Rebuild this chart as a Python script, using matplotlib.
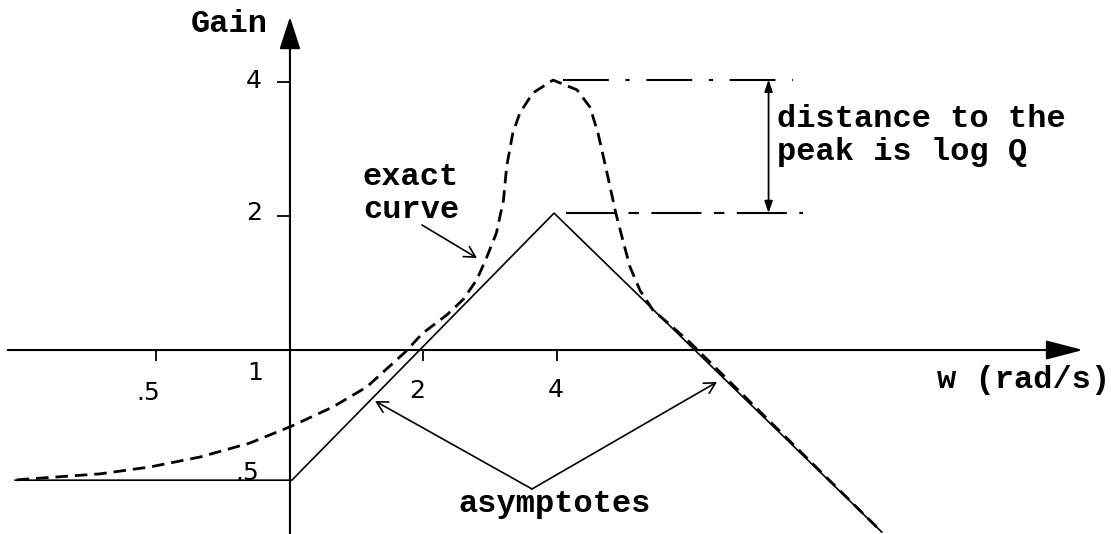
import matplotlib
matplotlib.use('Agg')
import matplotlib.pyplot as plt
from matplotlib.ticker import NullLocator

W, H = 1111, 534

# straight-line asymptotes: flat, rising to the corner at w=4, then falling
asym_w = [0.24, 1.01, 3.94, 21.6]
asym_gain = [0.51, 0.51, 2.03, 0.39]

# exact curve
exact_w = [0.242, 0.373, 0.483, 0.627, 0.812, 1.01, 1.25, 1.49, 1.82, 1.99,
           2.26, 2.46, 2.64, 2.78, 2.92, 3.03, 3.08, 3.18, 3.30, 3.53, 3.92,
           4.44, 4.75, 4.95, 5.21, 5.43, 5.61, 5.84, 6.16, 6.58, 7.19, 7.98, 21.6]
exact_gain = [0.511, 0.527, 0.546, 0.575, 0.618, 0.675, 0.745, 0.826, 0.99, 1.09,
              1.20, 1.30, 1.44, 1.62, 1.83, 2.17, 2.58, 3.07, 3.41, 3.78, 4.04,
              3.84, 3.51, 3.07, 2.45, 2.03, 1.79, 1.54, 1.36, 1.23, 1.14, 1.04, 0.39]

# guide lines for the peak distance
peak_gain = 4.05
corner_gain = 2.03
peak_line_w = [4.13, 13.6]
corner_line_w = [4.2, 14.35]
measure_w = 12.0

x_ticks = [0.5, 2, 4]
y_ticks = [2, 4]

MONO = 'Liberation Mono'
DIGITS = 'DejaVu Sans'


def fxy(x, y):
    """pixel position in the picture -> figure fraction"""
    return x / W, 1 - y / H


fig = plt.figure(figsize=(W / 100, H / 100), dpi=100)
ax = fig.add_axes([0, 0, 1, 1])
ax.set_xscale('log', base=2)
ax.set_yscale('log', base=2)
ax.set_xlim(2 ** -2.172, 2 ** 6.150)
ax.set_ylim(2 ** -1.373, 2 ** 2.612)
ax.patch.set_visible(False)

for s in ax.spines.values():
    s.set_visible(False)
ax.spines['left'].set_position(('data', 1))
ax.spines['bottom'].set_position(('data', 1))
ax.set_xticks(x_ticks)
ax.set_yticks(y_ticks)
ax.xaxis.set_minor_locator(NullLocator())
ax.yaxis.set_minor_locator(NullLocator())
ax.tick_params(axis='x', direction='out', length=8, width=1.3, labelbottom=False)
ax.tick_params(axis='y', direction='out', length=9.5, width=1.3, labelleft=False)

# axes with arrow heads
lo_x, hi_x = ax.get_xlim()
lo_y, hi_y = ax.get_ylim()
ax.annotate('', xy=(1, 2 ** 2.485), xytext=(1, lo_y),
            arrowprops=dict(arrowstyle='-|>,head_length=20,head_width=6.5',
                            mutation_scale=1, lw=1.5, color='black',
                            shrinkA=0, shrinkB=0))
ax.annotate('', xy=(2 ** 5.94, 1), xytext=(0.231, 1),
            arrowprops=dict(arrowstyle='-|>,head_length=23,head_width=6',
                            mutation_scale=1, lw=1.5, color='black',
                            shrinkA=0, shrinkB=0))

# curves
ax.plot(asym_w, asym_gain, color='black', lw=1.2)
ax.plot(exact_w, exact_gain, color='black', lw=2.0, linestyle=(0, (4.5, 2.5)))

# peak / corner guides
ax.plot(peak_line_w, [peak_gain] * 2, color='black', lw=1.5,
        linestyle=(0, (22, 8, 2, 8)))
ax.plot(corner_line_w, [corner_gain] * 2, color='black', lw=1.5,
        linestyle=(0, (24, 6, 5, 6)))
ax.annotate('', xy=(measure_w, peak_gain), xytext=(measure_w, corner_gain),
            arrowprops=dict(arrowstyle='<|-|>,head_length=0.35,head_width=0.12',
                            mutation_scale=20, lw=1.3, color='black',
                            shrinkA=0, shrinkB=0))

# pointer arrows
ptr = dict(arrowstyle='->,head_length=0.55,head_width=0.3', mutation_scale=14,
           lw=1.2, color='black', shrinkA=0, shrinkB=0)
ax.annotate('', xy=fxy(477, 258), xycoords='figure fraction',
            xytext=fxy(422, 225), textcoords='figure fraction', arrowprops=ptr)
ax.annotate('', xy=fxy(375, 401), xycoords='figure fraction',
            xytext=fxy(532, 489), textcoords='figure fraction', arrowprops=ptr)
ax.annotate('', xy=fxy(717, 382), xycoords='figure fraction',
            xytext=fxy(532, 489), textcoords='figure fraction', arrowprops=ptr)

# typewriter labels
txt = dict(family=MONO, fontsize=23, fontweight='bold', va='baseline')
fig.text(*fxy(268, 32), 'Gain', ha='right', **txt)
fig.text(*fxy(937, 388), 'w (rad/s)', ha='left', **txt)
fig.text(*fxy(363, 185), 'exact', ha='left', **txt)
fig.text(*fxy(363, 218), 'curve', ha='left', **txt)
fig.text(*fxy(777, 127), 'distance to the', ha='left', **txt)
fig.text(*fxy(777, 160), 'peak is log Q', ha='left', **txt)
fig.text(*fxy(555, 512), 'asymptotes', ha='center', **txt)

# hand-lettered tick numbers
num = dict(family=DIGITS, fontsize=18, va='baseline', ha='center')
fig.text(*fxy(254, 88), '4', **num)
fig.text(*fxy(254, 220), '2', **num)
fig.text(*fxy(247, 480), '.5', **num)
fig.text(*fxy(148, 400), '.5', **num)
fig.text(*fxy(255, 380), '1', **num)
fig.text(*fxy(417, 398), '2', **num)
fig.text(*fxy(556, 397), '4', **num)

fig.savefig('out.png', dpi=100)
